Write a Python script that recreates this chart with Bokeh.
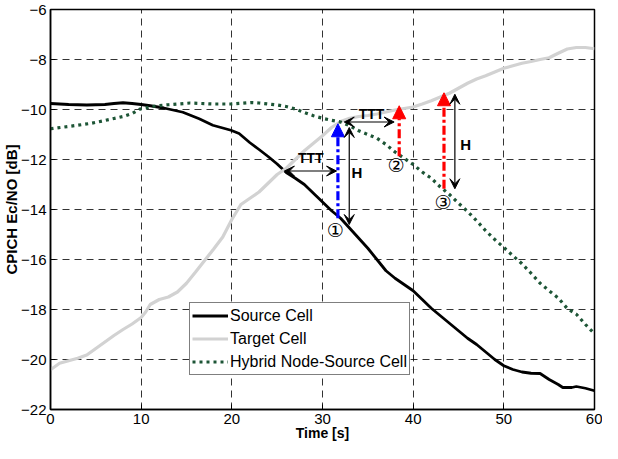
from bokeh.plotting import figure
from bokeh.models import ColumnDataSource, Arrow, NormalHead, VeeHead, FixedTicker, Range1d
from bokeh.core.properties import value
from bokeh.embed import file_html
from bokeh.resources import INLINE

# ---------------- data ----------------
src_t = [0, 2, 4, 6, 7, 8, 9, 10, 11, 12.5, 14.6, 16.4, 17.9, 19.9, 20.8, 22, 23, 24, 25, 26, 27, 28, 29, 30,
         31, 32, 33, 34, 35, 36, 37, 38, 39, 40, 41, 42, 43, 44, 45, 46, 47, 48, 49, 50, 51, 52, 53, 54,
         55, 56, 56.5, 57.5, 58, 59, 60]
src_v = [-9.76, -9.80, -9.82, -9.80, -9.76, -9.73, -9.76, -9.80, -9.85, -9.94, -10.11, -10.37, -10.63, -10.83,
         -10.96, -11.33, -11.6, -11.88, -12.18, -12.52, -12.75, -13.0, -13.35, -13.7, -14.05, -14.35, -14.75,
         -15.15, -15.55, -16.0, -16.45, -16.75, -17.0, -17.25, -17.6, -17.95, -18.25, -18.55, -18.85, -19.15,
         -19.4, -19.7, -20.0, -20.25, -20.4, -20.5, -20.55, -20.56, -20.8, -21.0, -21.12, -21.12, -21.08,
         -21.15, -21.25]

tgt_t = [0, 1, 2, 3, 4, 5, 6, 7, 8, 9, 10, 10.5, 11, 12, 13, 14, 15, 16, 17, 18, 19, 20, 21, 22, 23, 24,
         25, 26, 27, 28, 29, 30, 31, 32, 33, 34, 35, 36, 37, 38, 39, 40, 41, 42, 43, 44, 45, 46, 47, 48,
         49, 50, 51, 52, 53, 54, 55, 56, 57, 58, 59, 60]
tgt_v = [-20.41, -20.15, -20.05, -19.95, -19.82, -19.56, -19.3, -19.04, -18.8, -18.58, -18.32, -18.1, -17.8,
         -17.6, -17.5, -17.3, -16.95, -16.5, -16.04, -15.58, -15.1, -14.4, -13.8, -13.55, -13.3, -12.95,
         -12.6, -12.35, -12.0, -11.65, -11.35, -11.05, -10.72, -10.48, -10.35, -10.28, -10.24, -10.18, -10.1,
         -10.02, -9.96, -9.9, -9.78, -9.65, -9.5, -9.35, -9.15, -8.95, -8.78, -8.65, -8.5, -8.35, -8.25,
         -8.15, -8.08, -8.0, -7.93, -7.75, -7.58, -7.52, -7.52, -7.57]

hyb_t = [0, 1.5, 3, 4.5, 6, 7, 8, 9, 9.9, 11.4, 13, 15.4, 17.9, 20, 22.2, 23, 25, 26, 27, 28, 29, 30, 31,
         32, 33, 34, 35, 36, 37, 38, 39, 40, 41, 42, 43, 44, 45, 46, 47, 48, 49, 50, 51, 52, 53, 54, 55,
         56, 57, 58, 59, 60]
hyb_v = [-10.77, -10.7, -10.63, -10.55, -10.44, -10.36, -10.28, -10.16, -9.98, -9.87, -9.81, -9.74, -9.78,
         -9.78, -9.72, -9.74, -9.82, -9.88, -9.98, -10.12, -10.25, -10.35, -10.43, -10.5, -10.65, -10.85,
         -11.0, -11.15, -11.4, -11.7, -11.95, -12.2, -12.5, -12.75, -13.1, -13.4, -13.75, -14.08, -14.45,
         -14.85, -15.2, -15.52, -15.85, -16.17, -16.55, -16.95, -17.25, -17.54, -17.96, -18.19, -18.6,
         -18.97]

x_ticks = [0, 10, 20, 30, 40, 50, 60]
y_ticks = [-22, -20, -18, -16, -14, -12, -10, -8, -6]

# handover event arrows (time, from, to)
blue_arrow = dict(t=31.7, v0=-14.35, v1=-10.57)
red_arrows = dict(t=[38.46, 43.4], v0=[-11.87, -13.17], v1=[-9.85, -9.33])
# hysteresis double arrows (time, from, to)
h_arrows = dict(t=[32.95, 44.6], v0=[-10.72, -9.39], v1=[-14.6, -13.17])
# time-to-trigger double arrows (start, end, level)
ttt_arrows = dict(t0=[25.8, 32.4], t1=[31.55, 37.9], v=[-12.46, -10.5])

lab_t = [28.7, 35.4, 33.8, 45.8]
lab_v = [-11.95, -10.17, -12.52, -11.41]
lab_txt = ["TTT", "TTT", "H", "H"]
lab_size = ["14px", "14px", "15px", "15px"]

num_t = [31.4, 38.1, 43.3]
num_v = [-14.8, -12.23, -13.7]
num_txt = ["\u2460", "\u2461", "\u2462"]

FONT = "Liberation Sans"
GREEN = "#1d5536"
GRAY = "#d2d2d2"

p = figure(width=602, height=443, output_backend="svg", toolbar_location=None,
           x_range=Range1d(0, 60), y_range=Range1d(-22, -6),
           min_border_left=47, min_border_right=8, min_border_top=9, min_border_bottom=30)
p.background_fill_color = "white"
p.border_fill_color = "white"
p.outline_line_color = "black"
p.outline_line_width = 1.5

for g in (p.xgrid, p.ygrid):
    g.grid_line_color = "black"
    g.grid_line_alpha = 0.8
    g.grid_line_dash = "7 5"
    g.grid_line_width = 1

p.xaxis.ticker = FixedTicker(ticks=x_ticks)
p.yaxis.ticker = FixedTicker(ticks=y_ticks)
for ax in (p.xaxis[0], p.yaxis[0]):
    ax.axis_line_color = "black"
    ax.axis_line_width = 1.5
    ax.major_tick_in = 5
    ax.major_tick_out = 0
    ax.minor_tick_line_color = None
    ax.major_label_text_font = FONT
    ax.major_label_text_font_size = "15px"
    ax.major_label_text_color = "black"
    ax.axis_label_text_font = FONT
    ax.axis_label_text_font_style = "bold"
    ax.axis_label_text_color = "black"
p.xaxis.axis_label = "Time [s]"
p.yaxis.axis_label = "CPICH Ec/NO [dB]"
p.xaxis.axis_label_text_font_size = "14px"
p.yaxis.axis_label_text_font_size = "15px"
p.xaxis.major_label_standoff = 4
p.xaxis.axis_label_standoff = -2
p.yaxis.major_label_standoff = 4
p.yaxis.axis_label_standoff = -2

r_src = p.line(src_t, src_v, line_color="black", line_width=2.8, legend_label="Source Cell")
r_tgt = p.line(tgt_t, tgt_v, line_color=GRAY, line_width=3.2, legend_label="Target Cell")
r_hyb = p.line(hyb_t, hyb_v, line_color=GREEN, line_width=3.2, line_dash="3 4",
               legend_label="Hybrid Node-Source Cell")

# blue event arrow
p.add_layout(Arrow(end=NormalHead(size=13, fill_color="blue", line_color="blue"),
                   x_start=blue_arrow["t"], y_start=blue_arrow["v0"],
                   x_end=blue_arrow["t"], y_end=blue_arrow["v1"],
                   line_color="blue", line_width=3.2, line_dash="9 3 3 3"))
# red event arrows
for t, a, b in zip(red_arrows["t"], red_arrows["v0"], red_arrows["v1"]):
    p.add_layout(Arrow(end=NormalHead(size=13, fill_color="red", line_color="red"),
                       x_start=t, y_start=a, x_end=t, y_end=b,
                       line_color="red", line_width=3.2, line_dash="9 3 3 3"))
# hysteresis double arrows
for t, a, b in zip(h_arrows["t"], h_arrows["v0"], h_arrows["v1"]):
    p.add_layout(Arrow(start=VeeHead(size=10, fill_color="black", line_color="black", line_width=1),
                       end=VeeHead(size=10, fill_color="black", line_color="black", line_width=1),
                       x_start=t, y_start=a, x_end=t, y_end=b,
                       line_color="black", line_width=1.2))
# TTT double arrows
for a, b, v in zip(ttt_arrows["t0"], ttt_arrows["t1"], ttt_arrows["v"]):
    p.add_layout(Arrow(start=VeeHead(size=10, fill_color="black", line_color="black", line_width=1),
                       end=VeeHead(size=10, fill_color="black", line_color="black", line_width=1),
                       x_start=a, y_start=v, x_end=b, y_end=v,
                       line_color="black", line_width=1.2))

lab_src = ColumnDataSource(dict(x=lab_t, y=lab_v, text=lab_txt, size=lab_size))
p.text(x="x", y="y", text="text", source=lab_src, text_font=value(FONT), text_font_size="size",
       text_font_style="bold", text_align="center", text_baseline="middle", text_color="black")

num_src = ColumnDataSource(dict(x=num_t, y=num_v, text=num_txt))
p.text(x="x", y="y", text="text", source=num_src, text_font=value("DejaVu Sans"), text_font_size="19px",
       text_align="center", text_baseline="middle", text_color="black")

lg = p.legend[0]
lg.location = (139, 34)
lg.border_line_color = "black"
lg.border_line_width = 1.2
lg.background_fill_color = "white"
lg.background_fill_alpha = 1
lg.label_text_font = FONT
lg.label_text_font_size = "16px"
lg.label_text_color = "black"
lg.glyph_width = 36
lg.glyph_height = 21
lg.label_height = 21
lg.label_standoff = 2
lg.padding = 2
lg.spacing = 2
lg.margin = 0

open("out.html", "w").write(file_html(p, INLINE))
